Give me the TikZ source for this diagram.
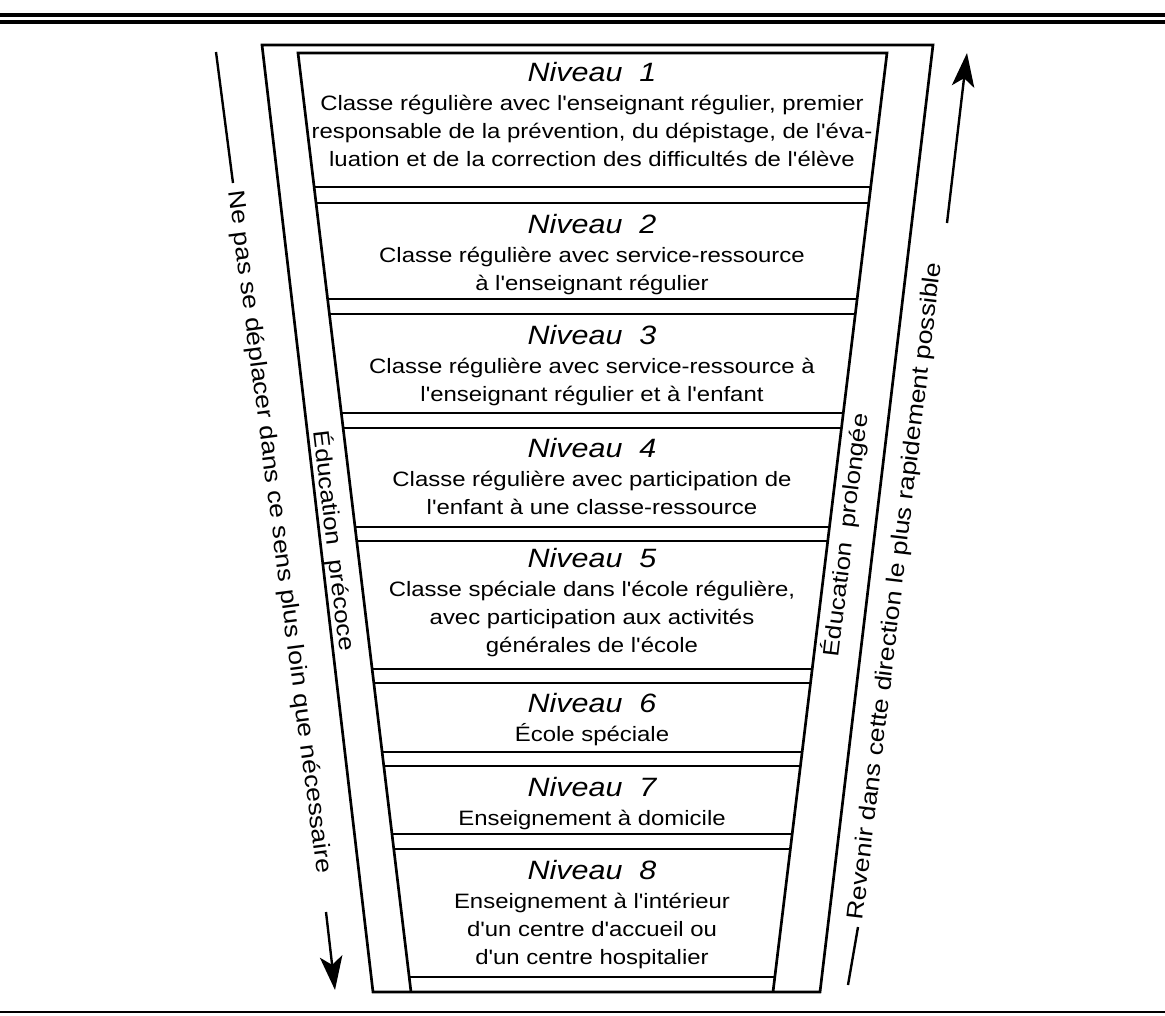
\documentclass[tikz,border=0pt]{standalone}
\usepackage{fontspec}
\setmainfont{Liberation Sans}[FakeStretch=1.15, Ligatures=TeXOff]
\usetikzlibrary{calc,arrows.meta}

% title line of a level
\newcommand{\niv}[1]{{\fontsize{18.85}{22}\selectfont\itshape Niveau\ \ #1}\\[0.7pt]}

\begin{document}
\begin{tikzpicture}[x=0.025cm, y=-0.025cm,
    funnel/.style={line width=1.9pt},
    band/.style={line width=1.6pt},
    rule/.style={line width=2.2pt},
    niveau/.style={anchor=north, align=center, inner sep=0pt,
        font=\fontsize{14.8}{19.9}\selectfont},
    striptext/.style={inner sep=0pt, font=\fontsize{16}{18}\selectfont},
    sidetext/.style={inner sep=0pt, font=\fontsize{16.5}{18}\selectfont},
    arrowline/.style={line width=1.7pt, -{Stealth[length=24pt, width=16pt, inset=6pt]}}]

    \useasboundingbox (0,0) rectangle (1165,1015);

    % Double rule at the top, single rule at the bottom
    \draw[rule] (0,15) -- (1165,15);
    \draw[rule] (0,22) -- (1165,22);
    \draw[line width=1.2pt] (0,1012) -- (1165,1012);

    % Define coordinates
    % outer funnel
    \coordinate (OTL) at (262,45);
    \coordinate (OTR) at (933,45);
    \coordinate (OBL) at (373,992);
    \coordinate (OBR) at (820,992);
    % inner funnel
    \coordinate (ITL) at (298,53);
    \coordinate (ITR) at (887,53);
    \coordinate (IBL) at (411,992);
    \coordinate (IBR) at (773,992);

    % Draw the two funnels
    \draw[funnel] (OTL) -- (OTR) -- (OBR) -- (OBL) -- cycle;
    \draw[funnel] (IBL) -- (ITL) -- (ITR) -- (IBR);

    % Double lines between the levels
    \draw[band] ($(ITL)!0.1427!(IBL)$) -- ($(ITR)!0.1427!(IBR)$);
    \draw[band] ($(ITL)!0.1597!(IBL)$) -- ($(ITR)!0.1597!(IBR)$);
    \draw[band] ($(ITL)!0.2620!(IBL)$) -- ($(ITR)!0.2620!(IBR)$);
    \draw[band] ($(ITL)!0.2780!(IBL)$) -- ($(ITR)!0.2780!(IBR)$);
    \draw[band] ($(ITL)!0.3834!(IBL)$) -- ($(ITR)!0.3834!(IBR)$);
    \draw[band] ($(ITL)!0.3994!(IBL)$) -- ($(ITR)!0.3994!(IBR)$);
    \draw[band] ($(ITL)!0.5048!(IBL)$) -- ($(ITR)!0.5048!(IBR)$);
    \draw[band] ($(ITL)!0.5197!(IBL)$) -- ($(ITR)!0.5197!(IBR)$);
    \draw[band] ($(ITL)!0.6560!(IBL)$) -- ($(ITR)!0.6560!(IBR)$);
    \draw[band] ($(ITL)!0.6709!(IBL)$) -- ($(ITR)!0.6709!(IBR)$);
    \draw[band] ($(ITL)!0.7444!(IBL)$) -- ($(ITR)!0.7444!(IBR)$);
    \draw[band] ($(ITL)!0.7593!(IBL)$) -- ($(ITR)!0.7593!(IBR)$);
    \draw[band] ($(ITL)!0.8317!(IBL)$) -- ($(ITR)!0.8317!(IBR)$);
    \draw[band] ($(ITL)!0.8477!(IBL)$) -- ($(ITR)!0.8477!(IBR)$);
    % last line above the bottom
    \draw[band] ($(ITL)!0.9840!(IBL)$) -- ($(ITR)!0.9840!(IBR)$);

    % The eight levels
    \node[niveau] (lvl1) at (592,62) {\niv{1}
        Classe régulière avec l'enseignant régulier, premier\\
        responsable de la prévention, du dépistage, de l'éva-\\
        luation et de la correction des difficultés de l'élève};
    \node[niveau] (lvl2) at (592,214) {\niv{2}
        Classe régulière avec service-ressource\\
        à l'enseignant régulier};
    \node[niveau] (lvl3) at (592,325) {\niv{3}
        Classe régulière avec service-ressource à\\
        l'enseignant régulier et à l'enfant};
    \node[niveau] (lvl4) at (592,438) {\niv{4}
        Classe régulière avec participation de\\
        l'enfant à une classe-ressource};
    \node[niveau] (lvl5) at (592,548) {\niv{5}
        Classe spéciale dans l'école régulière,\\
        avec participation aux activités\\
        générales de l'école};
    \node[niveau] (lvl6) at (592,693) {\niv{6}
        École spéciale};
    \node[niveau] (lvl7) at (592,777) {\niv{7}
        Enseignement à domicile};
    \node[niveau] (lvl8) at (592,860) {\niv{8}
        Enseignement à l'intérieur\\
        d'un centre d'accueil ou\\
        d'un centre hospitalier};

    % Labels in the side strips
    \node[striptext, rotate=-83.2] (precoce) at (334,541) {Éducation\ \ précoce};
    \node[striptext, rotate=83.2] (prolongee) at (846,535) {Éducation\ \ prolongée};

    % Outside labels
    \node[sidetext, rotate=-82.6] (descendre) at (279,532)
        {Ne pas se déplacer dans ce sens plus loin que nécessaire};
    \node[sidetext, rotate=83.2] (remonter) at (896,591)
        {Revenir dans cette direction le plus rapidement possible};

    % Arrow ends
    \coordinate (dA) at (216,52);
    \coordinate (dB) at (233,183);
    \coordinate (dC) at (326,912);
    \coordinate (dD) at (335,990);
    \coordinate (rA) at (848,985);
    \coordinate (rB) at (858,927);
    \coordinate (rC) at (947,223);
    \coordinate (rD) at (967,53);

    % Going down on the left, coming back up on the right
    \draw[line width=1.7pt] (dA) -- (dB);
    \draw[arrowline] (dC) -- (dD);
    \draw[line width=1.7pt] (rA) -- (rB);
    \draw[arrowline] (rC) -- (rD);

\end{tikzpicture}
\end{document}
